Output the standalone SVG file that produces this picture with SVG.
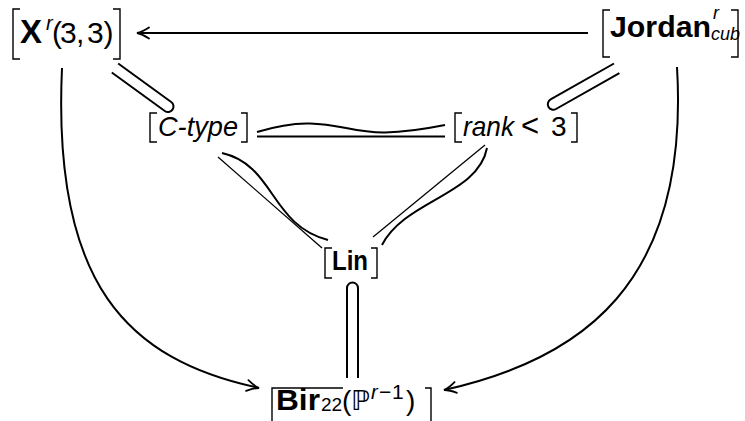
<svg xmlns="http://www.w3.org/2000/svg" width="745" height="421" viewBox="0 0 745 421">
  <style>
    .t { font-family: "Liberation Sans", "DejaVu Sans", sans-serif; fill: #000; }
    .dj { font-family: "DejaVu Sans", sans-serif; fill: #000; }
    .b { font-weight: bold; }
    .i { font-style: italic; }
    .br { fill: none; stroke: #000; stroke-width: 1.4; }
    .edge { fill: none; stroke: #000; stroke-width: 2; }
    .thin { fill: none; stroke: #000; stroke-width: 1.3; }
    .dbl { fill: none; stroke: #000; stroke-width: 2; stroke-linejoin: round; }
  </style>
  <defs>
    <marker id="to" viewBox="-14 -7 16 14" refX="0" refY="0" markerWidth="16" markerHeight="14" markerUnits="userSpaceOnUse" orient="auto">
      <path d="M -12 -5.5 Q -5 -1 0 0 Q -5 1 -12 5.5" fill="none" stroke="#000" stroke-width="1.8" stroke-linecap="round"/>
    </marker>
  </defs>

  <!-- nodes -->
  <g id="n-x33">
    <path class="br" d="M20 9 H13 V59 H20 M113 9 H120 V59 H113"/>
    <text class="t b" x="20" y="43" font-size="33">X</text>
    <text class="t i" x="46" y="30" font-size="20">r</text>
    <text class="t" x="52 60 76 87 103.5" y="43" font-size="30">(3,3)</text>
  </g>

  <g id="n-jordan">
    <path class="br" d="M610 10 H603 V57 H610 M731 10 H738 V57 H731"/>
    <text class="t b" x="610" y="37" font-size="30" textLength="101" lengthAdjust="spacingAndGlyphs">Jordan</text>
    <text class="t i" x="713" y="19" font-size="18">r</text>
    <text class="t i" x="711" y="40" font-size="18">cub</text>
  </g>

  <g id="n-ctype">
    <path class="br" d="M157 113 H150 V142 H157 M241 113 H247 V142 H241"/>
    <text class="t i" x="158" y="136" font-size="28" textLength="80" lengthAdjust="spacingAndGlyphs">C-type</text>
  </g>

  <g id="n-rank">
    <path class="br" d="M462 113 H455 V142 H462 M571 113 H577 V142 H571"/>
    <text class="t i" x="463" y="136" font-size="28" textLength="51" lengthAdjust="spacingAndGlyphs">rank</text>
    <text class="t" x="521" y="136" font-size="31">&lt;</text>
    <text class="t" x="551" y="136" font-size="28">3</text>
  </g>

  <g id="n-lin">
    <path class="br" d="M332 248 H325 V278 H332 M371 248 H377 V278 H371"/>
    <text class="t b" x="332" y="270" font-size="28" textLength="36" lengthAdjust="spacingAndGlyphs">Lin</text>
  </g>

  <g id="n-bir">
    <path class="br" d="M272 421 V388 H343 M425 388 H431 V421"/>
    <text class="t b" x="276" y="410" font-size="29" textLength="44" lengthAdjust="spacingAndGlyphs">Bir</text>
    <text class="t" x="321" y="411" font-size="19">22</text>
    <text class="t" x="342" y="410" font-size="28">(</text>
    <text class="dj" x="351" y="410" font-size="27">ℙ</text>
    <text class="t i" x="371" y="399" font-size="20">r</text>
    <text class="t" x="379 392" y="399" font-size="21">−1</text>
    <text class="t" x="406" y="410" font-size="28">)</text>
  </g>

  <!-- connectors -->
  <g id="edges">
    <!-- Jordan to X -->
    <path class="edge" d="M588 33 H137" marker-end="url(#to)"/>
    <!-- outer arcs into Bir -->
    <path class="edge" d="M62 68 C52 285, 128 360, 259 388" marker-end="url(#to)"/>
    <path class="edge" d="M677 67 C690 285, 580 360, 444 390" marker-end="url(#to)"/>
    <!-- X to C-type: double line with rounded end -->
    <path class="dbl" d="M118.2 63.5 L171.2 102 A5.5 5.5 0 0 1 164.8 111 L111.8 72.5"/>
    <!-- Jordan to rank: double line with rounded end -->
    <path class="dbl" d="M614 63.5 L550.6 99.4 A5.5 5.5 0 0 0 556 109 L619.4 73.1"/>
    <!-- C-type to rank -->
    <path class="edge" d="M257 132 C280 125, 295 123, 310 123.5 C340 124, 355 133, 385 132.5 C410 132, 430 128, 445 125"/>
    <path class="edge" stroke-width="2.6" d="M257 136.5 H445"/>
    <!-- C-type to Lin -->
    <path class="thin" d="M218 157 L322 248"/>
    <path class="edge" d="M222 153 C275 165, 270 225, 328 240"/>
    <!-- rank to Lin -->
    <path class="thin" d="M485 145 L373 237"/>
    <path class="edge" d="M487 148 C478 195, 405 200, 382 245"/>
    <!-- Lin to Bir: double line with rounded top -->
    <path class="dbl" d="M347 378 V288 A5.5 5.5 0 0 1 358 288 V378"/>
  </g>
</svg>
